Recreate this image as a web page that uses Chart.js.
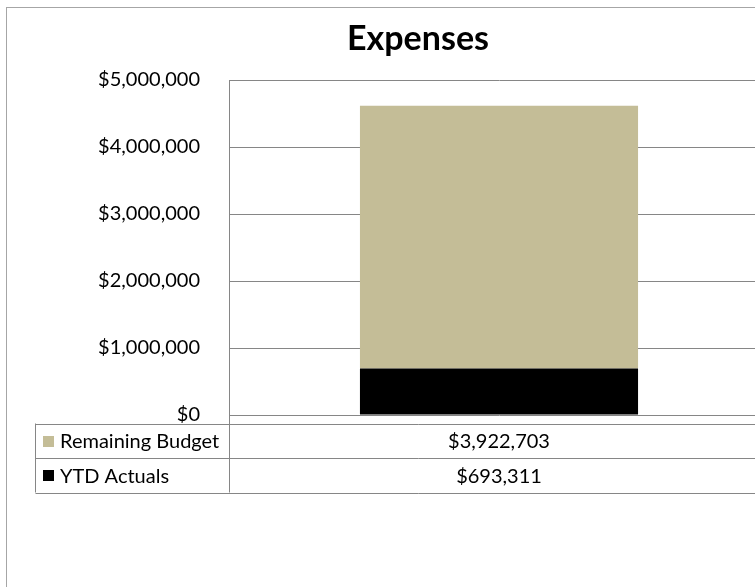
<!DOCTYPE html>
<html>
<head>
<meta charset="utf-8">
<script src="https://cdn.jsdelivr.net/npm/chart.js@4"></script>
<style>
  html, body { margin: 0; padding: 0; background: #fff; }
  #wrap { width: 755px; height: 587px; overflow: hidden; position: relative; }
  canvas { display: block; }
</style>
</head>
<body>
<div id="wrap"><canvas id="chart" width="800" height="587"></canvas></div>
<script>
// ---- data ----
const categories = ['Expenses'];
const seriesNames = ['YTD Actuals', 'Remaining Budget'];
const ytdActuals = [693311];
const remainingBudget = [3922703];
const yTicks = [0, 1000000, 2000000, 3000000, 4000000, 5000000];

const colors = ['#000000', '#C4BD97'];
const lineColor = '#868686';
const fontFamily = "Lato, 'Open Sans', sans-serif";

const money = v => '$' + Number(v).toLocaleString('en-US');

// Excel-style chart frame + title
const framePlugin = {
  id: 'frame',
  beforeDraw(chart) {
    const ctx = chart.ctx;
    ctx.save();
    ctx.strokeStyle = '#a6a6a6';
    ctx.lineWidth = 1;
    ctx.strokeRect(6.5, 7.5, 790, 600);
    ctx.fillStyle = '#000';
    ctx.font = 'bold 34px ' + fontFamily;
    ctx.textAlign = 'center';
    ctx.textBaseline = 'alphabetic';
    ctx.fillText('Expenses', 418, 50);
    ctx.restore();
  }
};

// data table under the plot
const tablePlugin = {
  id: 'dataTable',
  afterDraw(chart) {
    const ctx = chart.ctx;
    const area = chart.chartArea;
    const xScale = chart.scales.x;
    const left = 35.5, top = 423.5, rowH = 34.5;
    const rows = chart.data.datasets.slice().reverse();
    const bottom = top + rowH * rows.length;

    ctx.save();
    ctx.strokeStyle = lineColor;
    ctx.lineWidth = 1;
    ctx.beginPath();
    for (let i = 0; i <= rows.length; i++) {
      const y = Math.round(top + rowH * i) + 0.5;
      ctx.moveTo(left, y);
      ctx.lineTo(area.right + 40, y);
    }
    ctx.moveTo(left, top);
    ctx.lineTo(left, bottom);
    const colX = Math.round(area.left) + 0.5;
    ctx.moveTo(colX, area.bottom);
    ctx.lineTo(colX, bottom);
    ctx.stroke();

    ctx.font = '20px ' + fontFamily;
    ctx.textBaseline = 'middle';
    rows.forEach((ds, i) => {
      const yMid = top + rowH * i + rowH / 2;
      ctx.fillStyle = ds.backgroundColor;
      ctx.fillRect(43, Math.round(yMid - 5), 11, 11);
      ctx.fillStyle = '#000';
      ctx.textAlign = 'left';
      ctx.fillText(ds.label, 60, yMid + 1);
      ctx.textAlign = 'center';
      ds.data.forEach((v, j) => {
        ctx.fillText(money(v), xScale.getPixelForValue(j), yMid + 1);
      });
    });
    ctx.restore();
  }
};

new Chart(document.getElementById('chart'), {
  type: 'bar',
  data: {
    labels: categories,
    datasets: [
      { label: seriesNames[0], data: ytdActuals, backgroundColor: colors[0] },
      { label: seriesNames[1], data: remainingBudget, backgroundColor: colors[1] }
    ]
  },
  options: {
    responsive: false,
    animation: false,
    devicePixelRatio: 1,
    layout: { padding: { top: 80, left: 10, right: 31, bottom: 172 } },
    datasets: { bar: { barPercentage: 0.515, categoryPercentage: 1 } },
    plugins: {
      legend: { display: false },
      title: { display: false },
      tooltip: { enabled: false }
    },
    scales: {
      x: { stacked: true, display: false },
      y: {
        stacked: true,
        min: 0,
        max: 5000000,
        afterFit(scale) { scale.width = 219; },
        afterBuildTicks(scale) { scale.ticks = yTicks.map(v => ({ value: v })); },
        ticks: {
          color: '#000',
          padding: 29,
          font: { family: fontFamily, size: 20 },
          callback: v => money(v)
        },
        grid: { color: lineColor, drawTicks: false, lineWidth: 1 },
        border: { display: true, color: lineColor, width: 1 }
      }
    }
  },
  plugins: [framePlugin, tablePlugin]
});
</script>
</body>
</html>
